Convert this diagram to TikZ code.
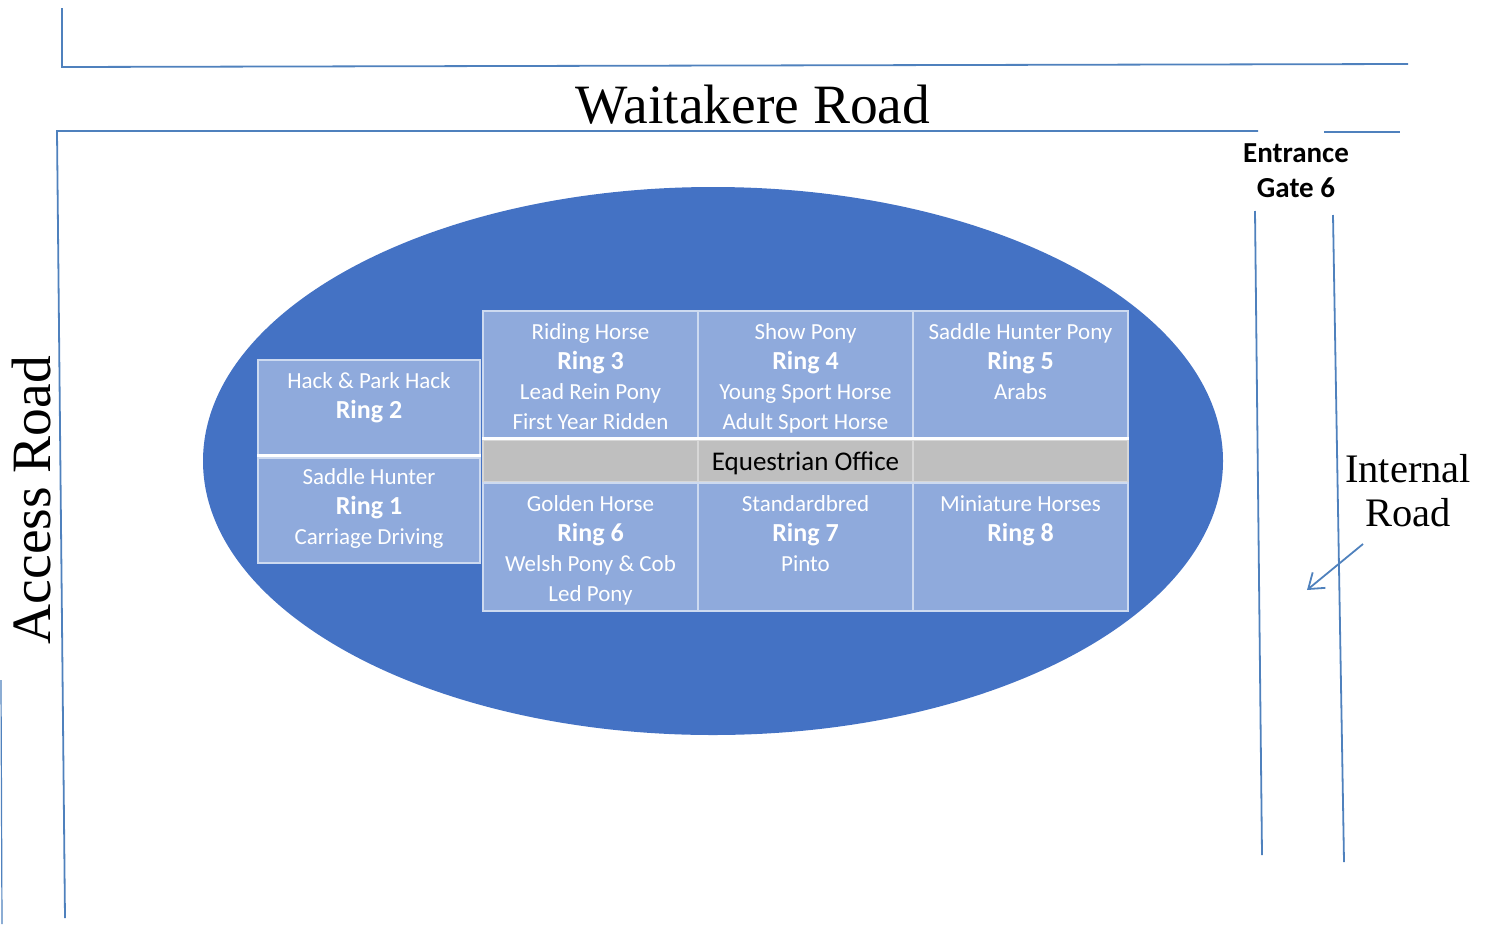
\documentclass[tikz,border=0pt]{standalone}
\usepackage{fontspec}
\setmainfont{Liberation Serif}
\newfontfamily\calfont{Carlito}
\usetikzlibrary{arrows.meta}
\usetikzlibrary{shapes.geometric}

\definecolor{roadline}{RGB}{79,129,189}
\definecolor{ringblue}{RGB}{68,114,196}
\definecolor{cellfill}{RGB}{143,170,220}
\definecolor{cellline}{RGB}{205,218,240}
\definecolor{officegray}{RGB}{191,191,191}
\definecolor{officeline}{RGB}{215,215,215}

\newcommand{\ringno}[1]{{\fontsize{26}{30}\selectfont\bfseries Ring #1}}

\begin{document}
\begin{tikzpicture}[x=1pt,y=-1pt,
    road/.style={roadline,line width=1.8pt},
    cell/.style={fill=cellfill,draw=cellline,line width=1.5pt,inner sep=0pt,minimum width=215pt},
    office/.style={fill=officegray,draw=officeline,line width=1.2pt,inner sep=0pt,minimum width=215pt,minimum height=42pt},
    celltext/.style={anchor=north,text=white,align=center,inner sep=0pt,font=\calfont\fontsize{23}{30}\selectfont},
    bigroad/.style={font=\fontsize{55.5}{60}\selectfont,inner sep=0pt}]
    \useasboundingbox (0,0) rectangle (1488,924);
    % roads
    \draw[road] (62,8) -- (62,67) -- (1408,64);
    \draw[road] (65,918) -- (57,131) -- (1258,131);
    \draw[road] (1324,132) -- (1400,132);
    \draw[road,line width=1.2pt] (1,680) -- (2,924);
    \draw[road] (1255,211) -- (1262,855);
    \draw[road] (1333,215) -- (1344,862);
    \node[bigroad] (waitakere) at (753,105) {Waitakere Road};
    \node[bigroad,rotate=90] (access) at (32,500) {Access Road};
    \node[font=\calfont\bfseries\fontsize{29}{35}\selectfont,align=center] (gate) at (1296,171) {Entrance\\Gate 6};
    \node[font=\fontsize{40.5}{44}\selectfont,align=center] (internal) at (1408,491) {Internal\\Road};
    \coordinate (arrowtail) at (1363,544);
    \coordinate (arrowtip) at (1307,590);
    \draw[road,-{Straight Barb[length=14pt,width=20pt]}] (arrowtail) -- (arrowtip);
    % showground
    \node[ellipse,fill=ringblue,minimum width=1020pt,minimum height=548pt,inner sep=0pt] (ground) at (713,461) {};
    \node[cell,minimum width=222pt,minimum height=95pt] (r2) at (369,407.5) {};
    \node[cell,minimum width=222pt,minimum height=105pt] (r1) at (369,510.5) {};
    \node[cell,minimum height=127pt] (r3) at (590.5,374.5) {};
    \node[cell,minimum height=127pt] (r4) at (805.5,374.5) {};
    \node[cell,minimum height=127pt] (r5) at (1020.5,374.5) {};
    \node[office] (o1) at (590.5,461) {};
    \node[office] (o2) at (805.5,461) {};
    \node[office] (o3) at (1020.5,461) {};
    \node[cell,minimum height=128pt] (r6) at (590.5,547) {};
    \node[cell,minimum height=128pt] (r7) at (805.5,547) {};
    \node[cell,minimum height=128pt] (r8) at (1020.5,547) {};
    \draw[white,line width=3pt] (r2.south west) -- (r2.south east);
    \draw[white,line width=3pt] (r3.south west) -- (r5.south east);
    \node[celltext] (t2) at ([yshift=-13pt]r2.north) {Hack \& Park Hack\\\ringno{2}};
    \node[celltext] (t1) at ([yshift=-11pt]r1.north) {Saddle Hunter\\\ringno{1}\\Carriage Driving};
    \node[celltext] (t3) at ([yshift=-13pt]r3.north) {Riding Horse\\\ringno{3}\\Lead Rein Pony\\First Year Ridden};
    \node[celltext] (t4) at ([yshift=-13pt]r4.north) {Show Pony\\\ringno{4}\\Young Sport Horse\\Adult Sport Horse};
    \node[celltext] (t5) at ([yshift=-13pt]r5.north) {Saddle Hunter Pony\\\ringno{5}\\Arabs};
    \node[celltext] (t6) at ([yshift=-13pt]r6.north) {Golden Horse\\\ringno{6}\\Welsh Pony \& Cob\\Led Pony};
    \node[celltext] (t7) at ([yshift=-13pt]r7.north) {Standardbred\\\ringno{7}\\Pinto};
    \node[celltext] (t8) at ([yshift=-13pt]r8.north) {Miniature Horses\\\ringno{8}};
    \node[font=\calfont\fontsize{27}{30}\selectfont,inner sep=0pt] (equestrian) at ([yshift=-2pt]o2) {Equestrian Office};
\end{tikzpicture}
\end{document}
